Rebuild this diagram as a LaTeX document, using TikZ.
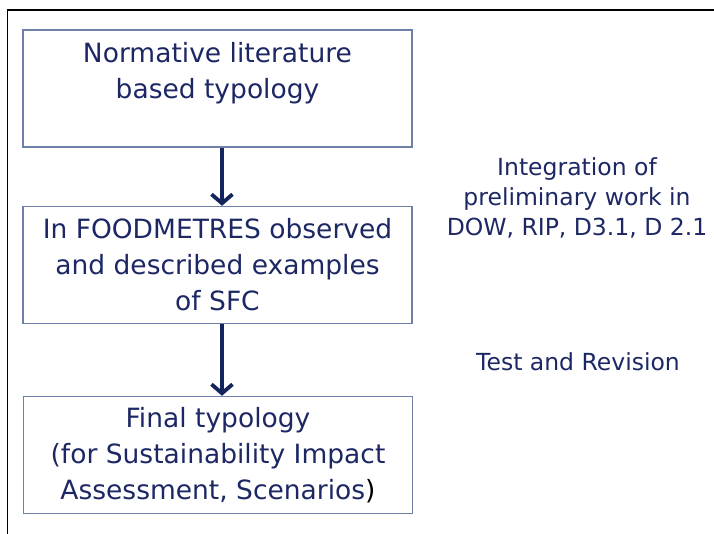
\documentclass[tikz,border=0pt]{standalone}
\usepackage{fontspec}
\setmainfont{DejaVu Sans}
\usetikzlibrary{positioning,arrows.meta}
\definecolor{navytext}{HTML}{1C2764}
\definecolor{boxline}{HTML}{6E80A8}
\definecolor{arrowblue}{HTML}{14245C}

\begin{document}
\begin{tikzpicture}[x=1pt, y=-1pt,
  stepbox/.style={draw=boxline, line width=1.4pt, rectangle, minimum width=389pt, minimum height=117pt, inner sep=0pt},
  boxtext/.style={text=navytext, align=center, inner sep=0pt, font=\fontsize{26.5}{36}\selectfont},
  sidetext/.style={text=navytext, align=center, inner sep=0pt, font=\fontsize{23.5}{30}\selectfont},
  flow/.style={draw=arrowblue, line width=3.8pt, -{Straight Barb[length=9pt, width=21pt]}}]
\useasboundingbox (0,0) rectangle (714,534);
\draw[line width=1.8pt] (714,10) -- (7.5,10) -- (7.5,534);
\node[stepbox] (norm) at (217.5,88.5) {};
\node[boxtext, anchor=north] (normtext) at ([yshift=-13pt]norm.north) {Normative literature\\based typology};
\node[stepbox, boxtext] (obs) at (217.5,265) {In FOODMETRES observed\\and described examples\\of SFC};
\node[stepbox, boxtext] (final) at (218,455) {Final typology\\(for Sustainability Impact\\Assessment, Scenarios{\color{black})}};
\node[sidetext, anchor=north] (integ) at (577,157) {Integration of\\preliminary work in\\DOW, RIP, D3.1, D 2.1};
\node[sidetext, anchor=base] (test) at (578,370) {Test and Revision};
\draw[flow] ([xshift=4.5pt]norm.south) -- ([xshift=4.5pt]obs.north);
\draw[flow] ([xshift=4.5pt]obs.south) -- ([xshift=4pt]final.north);
\end{tikzpicture}
\end{document}
